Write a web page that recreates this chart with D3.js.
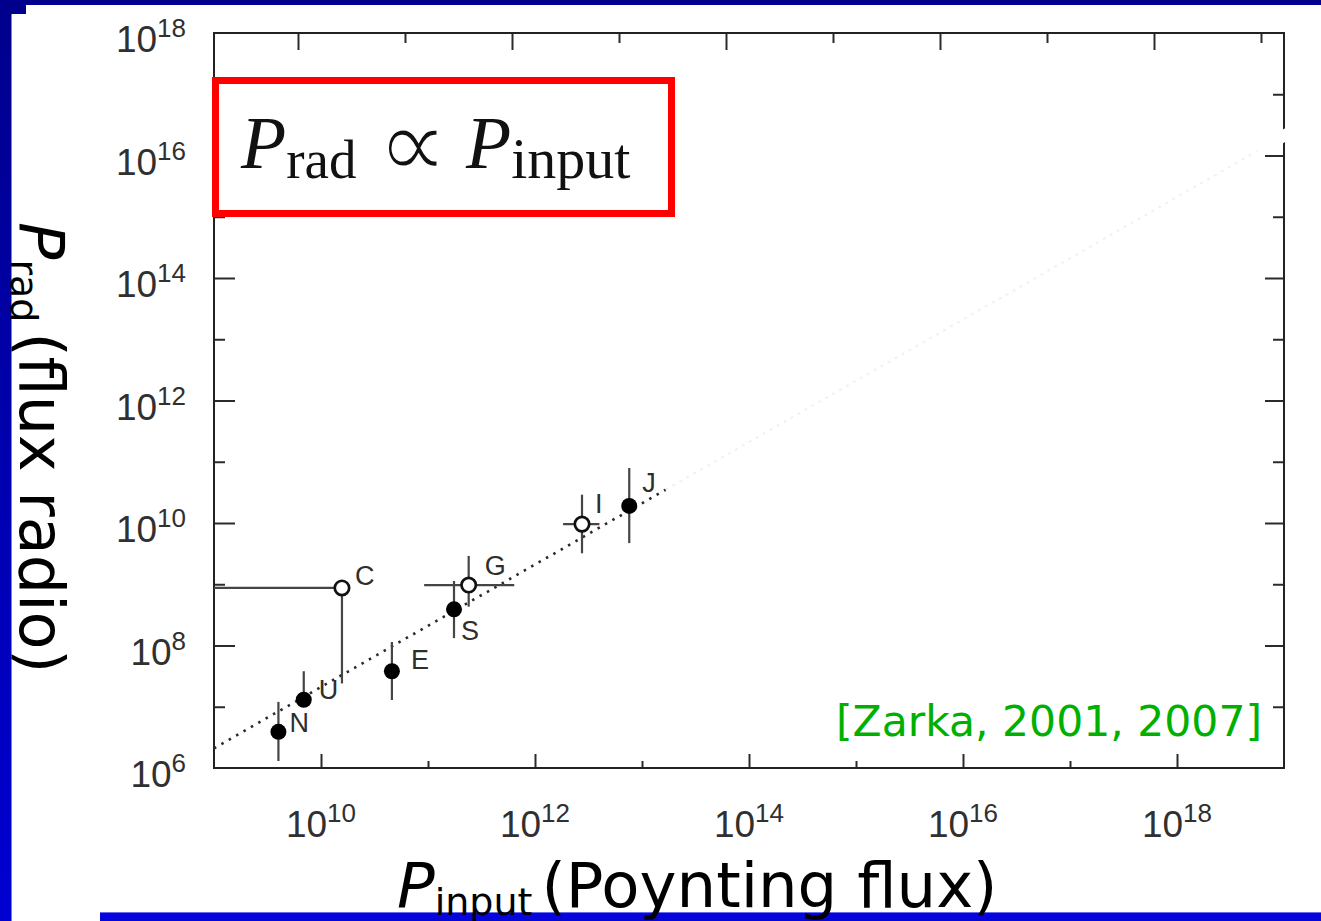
<!DOCTYPE html>
<html>
<head>
<meta charset="utf-8">
<script src="https://cdn.jsdelivr.net/npm/d3@7"></script>
<style>
  html, body { margin: 0; padding: 0; background: #fff; }
  svg { display: block; }
</style>
</head>
<body>
<svg id="chart" width="1321" height="921"></svg>
<script>
// ---- data: planetary radio power versus incident Poynting flux (W) ----
const bodies      = ["N", "U", "C", "E", "S", "G", "I", "J"];
const inputPower  = [4.0e9, 6.9e9, 1.57e10, 4.6e10, 1.75e11, 2.4e11, 2.75e12, 7.6e12];
const radioPower  = [3.9e6, 1.3e7, 8.7e8, 3.8e7, 3.9e8, 9.7e8, 9.6e9, 1.9e10];
const radioLow    = [1.3e6, 1.1e7, 2.4e7, 1.29e7, 1.32e8, 4.3e8, 3.2e9, 4.7e9];
const radioHigh   = [1.2e7, 3.8e7, null, 1.14e8, 1.13e9, 2.9e9, 2.9e10, 7.9e10];
const inputLow    = [null, null, 1e9, null, null, 9.2e10, 1.83e12, null];
const inputHigh   = [null, null, null, null, null, 6.4e11, 4.0e12, null];
const openMarker  = [false, false, true, false, false, true, true, false];

// proportional fit  P_rad = k * P_input
const fitCoefficient = 2.1e-3;
const fitRange       = [1e9, 1.66e13];
const fitExtension   = [1.66e13, 1e19];

const xDomain = [1e9, 1e19];
const yDomain = [1e6, 1e18];
const xLabelTicks = [1e10, 1e12, 1e14, 1e16, 1e18];
const yLabelTicks = [1e6, 1e8, 1e10, 1e12, 1e14, 1e16, 1e18];
const topTickShift = 0.215;           // top-axis ticks sit a little left of the decades
const citation = "[Zarka, 2001, 2007]";

// label placement next to each marker (px)
const labelOffsets = [[11, 0], [15, -1], [13, -3], [19, -2], [7, 31], [16, -10], [13, -11], [13, -14]];

// ---- layout ----
const svg = d3.select("#chart");
const W = 1321, H = 921;
const plot = { left: 214, right: 1284, top: 33, bottom: 768 };

const x = d3.scaleLog().domain(xDomain).range([plot.left, plot.right]);
const y = d3.scaleLog().domain(yDomain).range([plot.bottom, plot.top]);

const decades = (lo, hi) => d3.range(lo, hi + 1).map(k => Math.pow(10, k));
const isEven = v => Math.round(Math.log10(v)) % 2 === 0;

// ---- slide frame decoration ----
const defs = svg.append("defs");
const grad = defs.append("linearGradient").attr("id", "sideBar")
  .attr("x1", 0).attr("y1", 0).attr("x2", 0).attr("y2", 1);
grad.append("stop").attr("offset", "0%").attr("stop-color", "#00008c");
grad.append("stop").attr("offset", "100%").attr("stop-color", "#0000d2");

svg.append("rect").attr("width", W).attr("height", H).attr("fill", "#fff");
svg.append("rect").attr("x", 0).attr("y", 0).attr("width", W).attr("height", 5).attr("fill", "#00008e");
svg.append("rect").attr("x", 0).attr("y", 0).attr("width", 26).attr("height", 14).attr("fill", "#00008c");
svg.append("rect").attr("x", 0).attr("y", 0).attr("width", 11).attr("height", H).attr("fill", "url(#sideBar)");
svg.append("rect").attr("x", 11).attr("y", 14).attr("width", 1).attr("height", H - 14).attr("fill", "#7a7ae6");
svg.append("rect").attr("x", 100).attr("y", 912).attr("width", W - 100).attr("height", 9).attr("fill", "#0606dc");
svg.append("rect").attr("x", 100).attr("y", 912).attr("width", W - 100).attr("height", 1).attr("fill", "#6a6af0");

// ---- axes (inward ticks, long on even decades) ----
const tickColor = "#2b2b2b";
function drawAxis(gen, transform) {
  const g = svg.append("g").attr("transform", transform).call(gen);
  g.select(".domain").remove();
  g.selectAll("text").remove();
  g.selectAll("line").attr("stroke", tickColor).attr("stroke-width", 2);
}
const xDec = decades(10, 18);
const yDec = decades(7, 17);
const topTicks = d3.range(10, 20).map(k => Math.pow(10, k - topTickShift));

drawAxis(d3.axisBottom(x).tickValues(xDec.filter(isEven)).tickSizeInner(-14).tickSizeOuter(0), `translate(0,${plot.bottom})`);
drawAxis(d3.axisBottom(x).tickValues(xDec.filter(v => !isEven(v))).tickSizeInner(-7).tickSizeOuter(0), `translate(0,${plot.bottom})`);
drawAxis(d3.axisTop(x).tickValues(topTicks.filter((v, i) => i % 2 === 0)).tickSizeInner(-17).tickSizeOuter(0), `translate(0,${plot.top})`);
drawAxis(d3.axisTop(x).tickValues(topTicks.filter((v, i) => i % 2 === 1)).tickSizeInner(-10).tickSizeOuter(0), `translate(0,${plot.top})`);
drawAxis(d3.axisLeft(y).tickValues(yDec.filter(isEven)).tickSizeInner(-21).tickSizeOuter(0), `translate(${plot.left},0)`);
drawAxis(d3.axisLeft(y).tickValues(yDec.filter(v => !isEven(v))).tickSizeInner(-11).tickSizeOuter(0), `translate(${plot.left},0)`);
drawAxis(d3.axisRight(y).tickValues(yDec.filter(isEven)).tickSizeInner(-19).tickSizeOuter(0), `translate(${plot.right},0)`);
drawAxis(d3.axisRight(y).tickValues(yDec.filter(v => !isEven(v))).tickSizeInner(-11).tickSizeOuter(0), `translate(${plot.right},0)`);

svg.append("rect")
  .attr("x", plot.left).attr("y", plot.top)
  .attr("width", plot.right - plot.left).attr("height", plot.bottom - plot.top)
  .attr("fill", "none").attr("stroke", "#222").attr("stroke-width", 2);

// tick labels as 10 with superscript exponent
const tickFont = "'Liberation Sans', Arial, Helvetica, sans-serif";
function powerLabel(sel, v) {
  sel.append("tspan").text("10");
  sel.append("tspan").attr("dy", -15).attr("font-size", 26).text(Math.round(Math.log10(v)));
}
xLabelTicks.forEach(v => {
  const t = svg.append("text")
    .attr("x", x(v)).attr("y", 837)
    .attr("text-anchor", "middle")
    .attr("font-family", tickFont).attr("font-size", 37).attr("fill", "#303030");
  powerLabel(t, v);
});
yLabelTicks.forEach(v => {
  const t = svg.append("text")
    .attr("x", 186).attr("y", y(v) + 19)
    .attr("text-anchor", "end")
    .attr("font-family", tickFont).attr("font-size", 37).attr("fill", "#303030");
  powerLabel(t, v);
});

// ---- proportional fit line ----
const line = d3.line().x(d => x(d)).y(d => y(d * fitCoefficient));
svg.append("path")
  .attr("d", line(fitExtension))
  .attr("fill", "none").attr("stroke", "#f1f1f1").attr("stroke-width", 2)
  .attr("stroke-dasharray", "3,5");
// erased tail where the fit meets the right frame
svg.append("path")
  .attr("d", line([Math.pow(10, 18.75), Math.pow(10, 19.08)]))
  .attr("fill", "none").attr("stroke", "#fff").attr("stroke-width", 12);
svg.append("path")
  .attr("d", line(fitRange))
  .attr("fill", "none").attr("stroke", "#2a2a2a").attr("stroke-width", 2.6)
  .attr("stroke-dasharray", "2.5,6");

// ---- error bars / limit lines ----
const barColor = "#454545";
const pts = bodies.map((b, i) => ({
  name: b, px: inputPower[i], pr: radioPower[i],
  rLo: radioLow[i], rHi: radioHigh[i], iLo: inputLow[i], iHi: inputHigh[i],
  open: openMarker[i], off: labelOffsets[i]
}));
const bars = svg.append("g").attr("stroke", barColor).attr("stroke-width", 2.2);
pts.forEach(d => {
  const rLo = d.rLo ?? d.pr, rHi = d.rHi ?? d.pr;
  if (d.rLo !== null || d.rHi !== null)
    bars.append("line").attr("x1", x(d.px)).attr("x2", x(d.px)).attr("y1", y(rLo)).attr("y2", y(rHi));
  const iLo = d.iLo ?? d.px, iHi = d.iHi ?? d.px;
  if (d.iLo !== null || d.iHi !== null)
    bars.append("line").attr("y1", y(d.pr)).attr("y2", y(d.pr)).attr("x1", x(iLo)).attr("x2", x(iHi));
});

// ---- markers ----
svg.append("g").selectAll("circle").data(pts).join("circle")
  .attr("cx", d => x(d.px)).attr("cy", d => y(d.pr))
  .attr("r", d => d.open ? 7.2 : 8)
  .attr("fill", d => d.open ? "#fff" : "#000")
  .attr("stroke", d => d.open ? "#111" : "none")
  .attr("stroke-width", 2.7);

svg.append("g").selectAll("text").data(pts).join("text")
  .attr("x", d => x(d.px) + d.off[0]).attr("y", d => y(d.pr) + d.off[1])
  .attr("font-family", tickFont).attr("font-size", 27).attr("fill", "#2e2e2e")
  .text(d => d.name);

// ---- boxed proportionality relation ----
svg.append("rect")
  .attr("x", 215.5).attr("y", 80.5).attr("width", 456).attr("height", 133)
  .attr("fill", "#fff").attr("stroke", "#ff0000").attr("stroke-width", 7);
const serif = "'Liberation Serif', 'DejaVu Serif', serif";
const rel = svg.append("text")
  .attr("x", 241).attr("y", 168)
  .attr("font-family", serif).attr("font-size", 74).attr("fill", "#111");
rel.append("tspan").attr("font-style", "italic").text("P");
rel.append("tspan").attr("font-size", 55).attr("dy", 10).text("rad");
rel.append("tspan").attr("x", 377).attr("y", 178)
  .attr("font-family", "'DejaVu Sans', sans-serif").attr("font-size", 100)
  .attr("stroke", "#fff").attr("stroke-width", 2.4).attr("paint-order", "fill")
  .text("\u221D");
rel.append("tspan").attr("x", 466).attr("y", 168).attr("font-style", "italic").text("P");
rel.append("tspan").attr("font-size", 58).attr("dy", 10).text("input");

// ---- citation ----
svg.append("text")
  .attr("x", 1262).attr("y", 736).attr("text-anchor", "end")
  .attr("font-family", "'DejaVu Sans', sans-serif").attr("font-size", 42.5)
  .attr("fill", "#00b000").text(citation);

// ---- axis titles ----
const titleFont = "'DejaVu Sans', 'Open Sans', sans-serif";
const xt = svg.append("text")
  .attr("x", 397).attr("y", 907)
  .attr("font-family", titleFont).attr("font-size", 62.5).attr("fill", "#000");
xt.append("tspan").attr("font-style", "italic").text("P");
xt.append("tspan").attr("font-size", 38).attr("dy", 8).text("input");
xt.append("tspan").attr("dy", -8).attr("dx", 9).text("(Poynting flux)");

const yt = svg.append("text")
  .attr("transform", "translate(20,222) rotate(90)")
  .attr("font-family", titleFont).attr("font-size", 62).attr("fill", "#000");
yt.append("tspan").attr("font-style", "italic").text("P");
yt.append("tspan").attr("font-size", 38).attr("dy", 9).text("rad");
yt.append("tspan").attr("dy", -9).attr("dx", 10).text("(flux radio)");
</script>
</body>
</html>
